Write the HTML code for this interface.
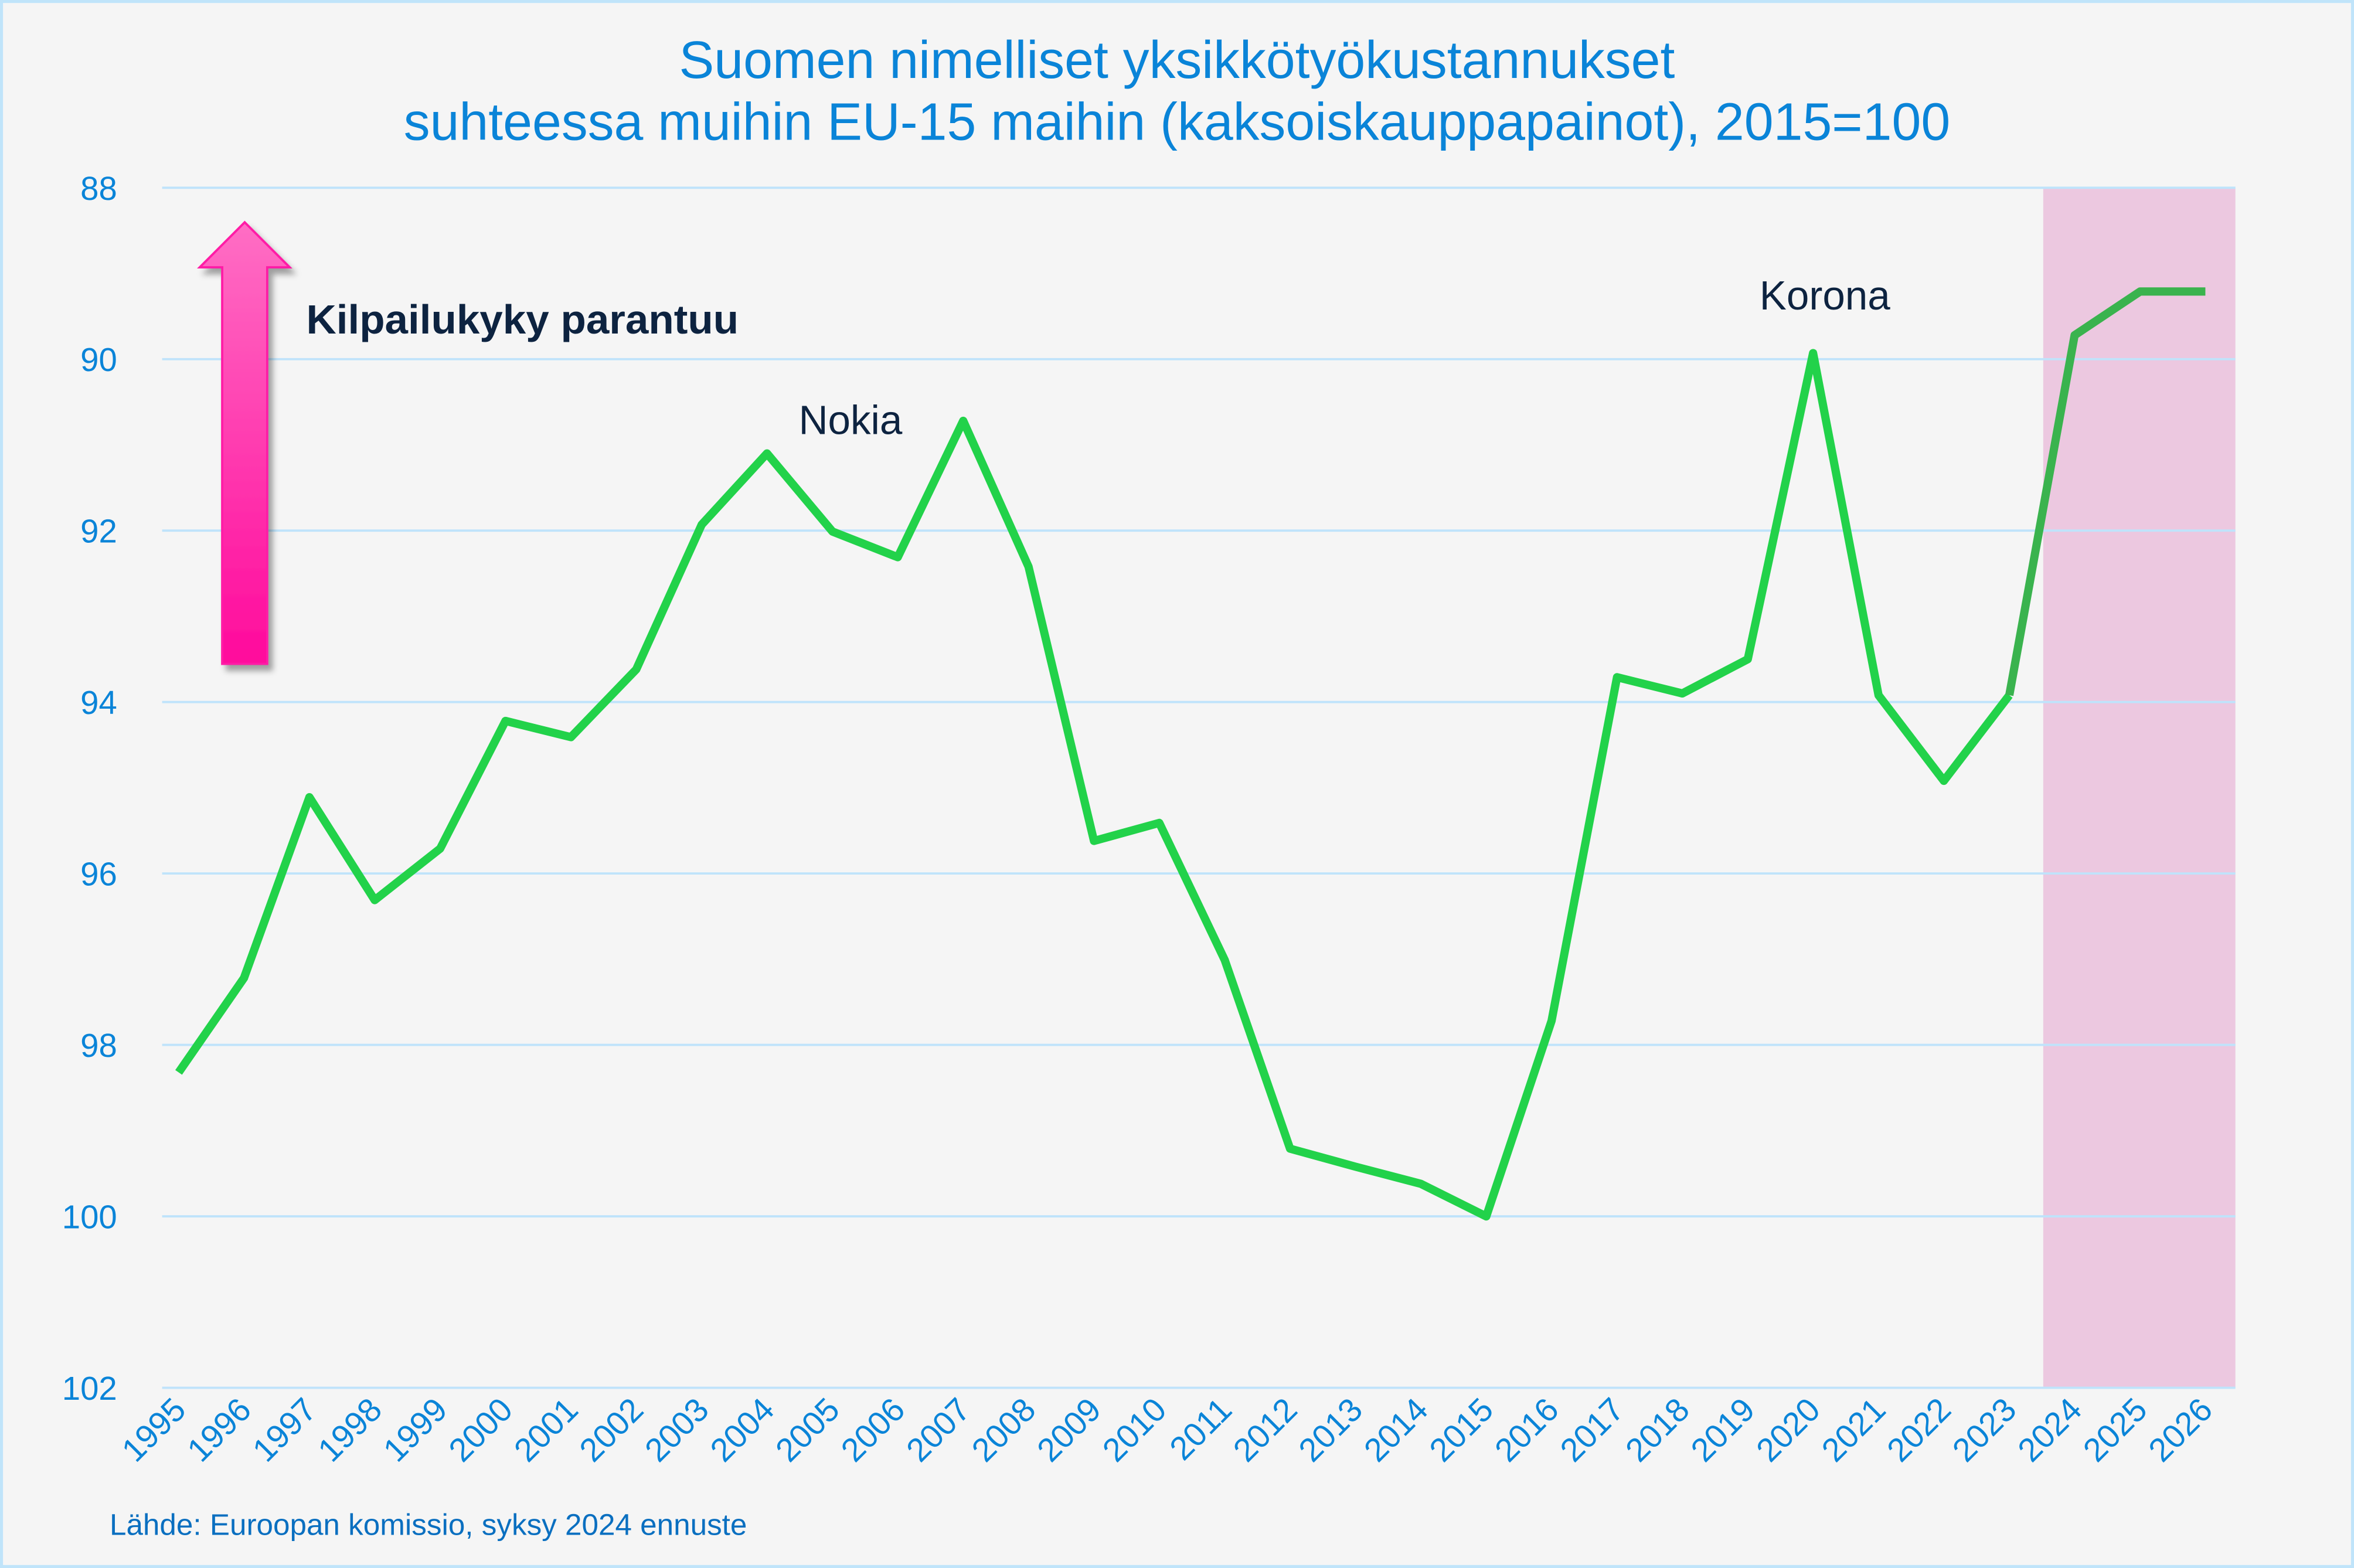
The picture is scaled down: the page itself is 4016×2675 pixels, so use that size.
<!DOCTYPE html>
<html><head><meta charset="utf-8"><style>
html,body{margin:0;padding:0;background:#f5f5f5;}
svg{display:block;font-family:"Liberation Sans",sans-serif;}
</style></head><body>
<svg id="chart" width="4016" height="2675" viewBox="0 0 1568 1044" preserveAspectRatio="none" xmlns="http://www.w3.org/2000/svg">
<defs>
<linearGradient id="ag" x1="0" y1="0" x2="0" y2="1"><stop offset="0" stop-color="#ff6ec4"/><stop offset="1" stop-color="#ff0a9c"/></linearGradient>
<filter id="sh" x="-20%" y="-20%" width="160%" height="160%"><feDropShadow dx="3" dy="4" stdDeviation="2" flood-color="#000" flood-opacity="0.35"/></filter>
</defs>
<rect x="1" y="1" width="1566" height="1042" fill="#f5f5f5" stroke="#c0e4fa" stroke-width="2"/>
<text x="784" y="52" text-anchor="middle" font-size="35" fill="#0a84d8">Suomen nimelliset yksikkötyökustannukset</text>
<text x="784" y="93" text-anchor="middle" font-size="35" fill="#0a84d8">suhteessa muihin EU-15 maihin (kaksoiskauppapainot), 2015=100</text>
<rect x="1361" y="125" width="128" height="799" fill="#ecc8e0"/>
<g id="grid"></g>
<g id="yticks"></g>
<g id="xticks"></g>
<g id="series"></g>
<g filter="url(#sh)">
<polygon points="163,148 193,178 178,178 178,442 148,442 148,178 133,178" fill="url(#ag)" stroke="#ff1aa6" stroke-width="1.5"/>
</g>
<text x="204" y="222" font-size="27" font-weight="bold" fill="#0d2340" textLength="288" lengthAdjust="spacingAndGlyphs">Kilpailukyky parantuu</text>
<text x="532" y="289" font-size="27" fill="#0d2340">Nokia</text>
<text x="1172" y="206" font-size="27" fill="#0d2340">Korona</text>
<text x="73" y="1022" font-size="20" fill="#0a6fc0">Lähde: Euroopan komissio, syksy 2024 ennuste</text>
</svg>
<script>
const years=[1995,1996,1997,1998,1999,2000,2001,2002,2003,2004,2005,2006,2007,2008,2009,2010,2011,2012,2013,2014,2015,2016,2017,2018,2019,2020,2021,2022,2023,2024,2025,2026];
const values=[98.32,97.22,95.11,96.31,95.71,94.22,94.41,93.62,91.93,91.1,92.01,92.31,90.72,92.42,95.62,95.41,97.01,99.21,99.42,99.62,100.0,97.72,93.71,93.9,93.5,89.93,93.92,94.92,93.92,89.72,89.21,89.21];
const yTickValues=[88,90,92,94,96,98,100,102];
const forecastStart=2023;
const NS="http://www.w3.org/2000/svg";
function xs(yr){return 119+(yr-1995)*(1469-119)/(2026-1995);}
function ys(v){return 125+(v-88)*(924-125)/(102-88);}
function mk(t,a,p){const e=document.createElementNS(NS,t);for(const k in a)e.setAttribute(k,a[k]);p.appendChild(e);return e;}
const grid=document.getElementById('grid'),yt=document.getElementById('yticks'),xt=document.getElementById('xticks'),ser=document.getElementById('series');
yTickValues.forEach(v=>{
 const l=mk('line',{x1:108,x2:1489,y1:ys(v),y2:ys(v),stroke:'#bfe3fb','stroke-width':1.5},grid);
 
 
 const t=mk('text',{x:78,y:ys(v)+8,'text-anchor':'end','font-size':22,fill:'#0a84d8'},yt);
 t.textContent=v;
 
 
});
years.forEach(yr=>{
 const x=xs(yr)+6,y=940;
 const t=mk('text',{x:x,y:y,'text-anchor':'end','font-size':22,fill:'#0a84d8',transform:`rotate(-45 ${x} ${y})`},xt);
 t.textContent=yr;
 
 
});
const hist=[],fc=[];
years.forEach((yr,i)=>{const p=xs(yr).toFixed(1)+','+ys(values[i]).toFixed(1);if(yr<=forecastStart)hist.push(p);if(yr>=forecastStart)fc.push(p);});
const h=mk('polyline',{points:hist.join(' '),fill:'none',stroke:'#22d24a','stroke-width':5.5,'stroke-linejoin':'round'},ser);


const f=mk('polyline',{points:fc.join(' '),fill:'none',stroke:'#3ab34e','stroke-width':5.5,'stroke-linejoin':'round'},ser);


</script>
</body></html>
